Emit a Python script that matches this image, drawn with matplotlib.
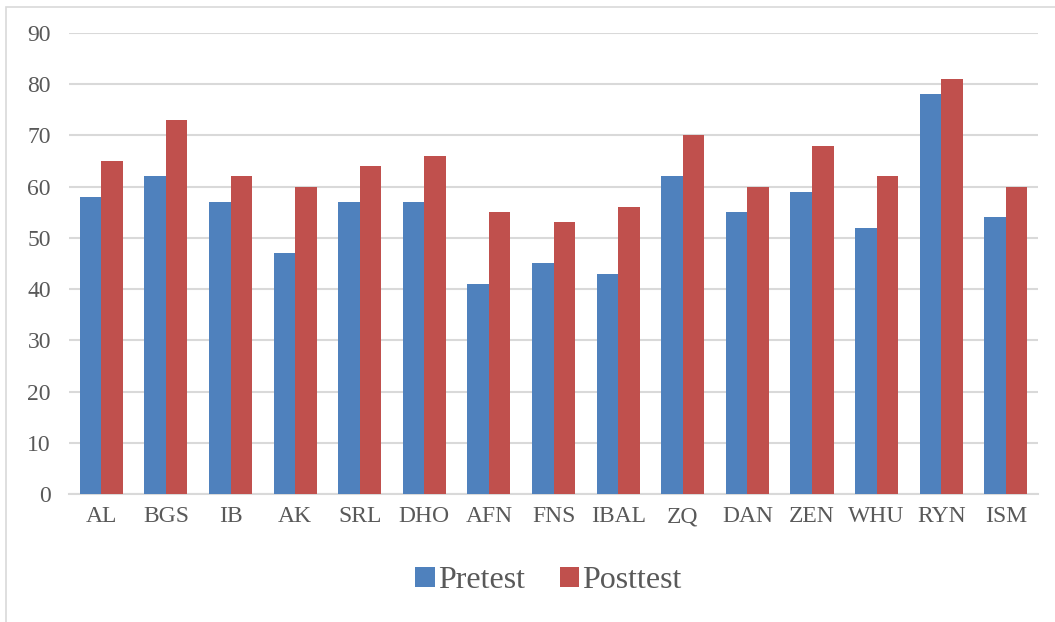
import numpy as np
import matplotlib.pyplot as plt
from matplotlib.patches import Rectangle

plt.rcParams['font.family'] = ['Liberation Serif', 'DejaVu Serif']

# ---------------------------------------------------
# Data
# ---------------------------------------------------
students = ["AL", "BGS", "IB", "AK", "SRL", "DHO", "AFN", "FNS", "IBAL",
            "ZQ", "DAN", "ZEN", "WHU", "RYN", "ISM"]
pretest = [58, 62, 57, 47, 57, 57, 41, 45, 43, 62, 55, 59, 52, 78, 54]
posttest = [65, 73, 62, 60, 64, 66, 55, 53, 56, 70, 60, 68, 62, 81, 60]

blue = '#4F81BD'
red = '#C0504D'
txt = '#595959'

fig = plt.figure(figsize=(10.55, 6.22), dpi=100)
ax = fig.add_axes([0.0654, 0.2058, 0.9186, 0.7412])

# light chart-area border (Excel style)
fig.patches.append(Rectangle((0.006, -0.01), 1.1, 0.9987, transform=fig.transFigure,
                             fill=False, edgecolor='#D9D9D9', linewidth=1.2))

x = np.arange(len(students))
w = 0.333
ax.bar(x - w / 2, pretest, width=w, color=blue, label='Pretest', zorder=3)
ax.bar(x + w / 2, posttest, width=w, color=red, label='Posttest', zorder=3)

ax.set_xlim(-0.5, len(students) - 0.5)
ax.set_ylim(0, 90)
ax.set_yticks(range(0, 91, 10))
ax.yaxis.grid(True, color='#D9D9D9', linewidth=1.5, zorder=0)
ax.set_axisbelow(True)

for s in ['top', 'right', 'left']:
    ax.spines[s].set_visible(False)
ax.spines['bottom'].set_color('#D9D9D9')
ax.spines['bottom'].set_linewidth(1.5)

ax.set_xticks(x)
ax.set_xticklabels(students)
ax.tick_params(axis='both', length=0, labelsize=17, colors=txt)
ax.tick_params(axis='x', pad=9)
ax.tick_params(axis='y', pad=13)

leg = fig.legend(loc='center', bbox_to_anchor=(0.52, 0.066), ncol=2, frameon=False,
                 fontsize=23, handlelength=0.6, handleheight=0.6,
                 handletextpad=0.1, columnspacing=1.1)
for t in leg.get_texts():
    t.set_color(txt)

plt.savefig("out.png", dpi=100)
